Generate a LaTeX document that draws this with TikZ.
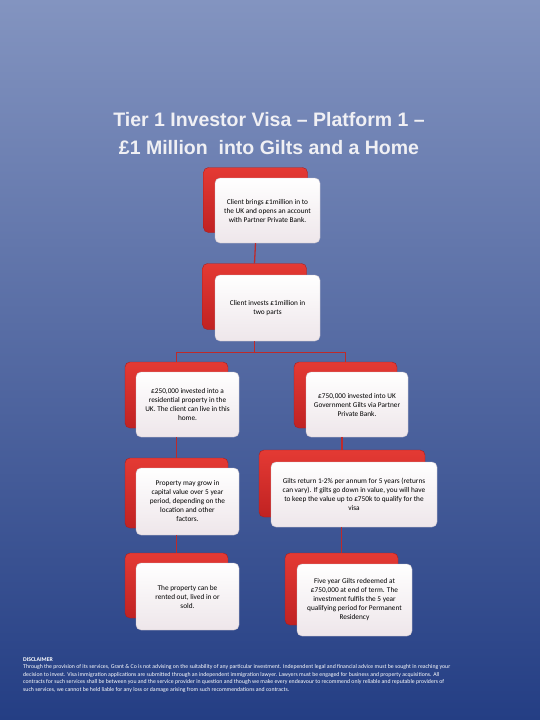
\documentclass[tikz,border=0pt]{standalone}
\usepackage{fontspec}
\setmainfont{Carlito}
\newfontfamily\titlefont{Liberation Sans}
\definecolor{bgtop}{RGB}{131,148,192}
\definecolor{bgmid}{RGB}{80,104,162}
\definecolor{bgbot}{RGB}{36,62,132}
\definecolor{redtop}{RGB}{228,58,52}
\definecolor{redbot}{RGB}{192,34,34}
\definecolor{backred}{RGB}{168,30,30}
\definecolor{frontbot}{RGB}{238,230,234}
\definecolor{frontedge}{RGB}{200,194,202}
\definecolor{linkred}{RGB}{190,42,42}
\definecolor{titlewhite}{RGB}{240,240,244}

\begin{document}
\begin{tikzpicture}[x=1pt,y=-1pt,
    backbox/.style={rounded corners=5pt,draw=backred,top color=redtop,bottom color=redbot,inner sep=0pt},
    frontbox/.style={rounded corners=5pt,draw=frontedge,top color=white,bottom color=frontbot,align=center,inner sep=2pt,font=\fontsize{7.3}{9}\selectfont},
    link/.style={draw=linkred,line width=1.3pt}]
        % background
        \shade[top color=bgtop,middle color=bgmid,bottom color=bgbot] (0,0) rectangle (540,720);
        \node[inner sep=0pt,align=center,text=titlewhite,font=\titlefont\bfseries\fontsize{19.5}{28}\selectfont] (title) at (269,134) {Tier 1 Investor Visa – Platform 1 –\\£1 Million~ into Gilts and a Home};
        % back boxes
        \node[backbox,minimum width=104pt,minimum height=65pt] (b1) at (255.5,200) {};
        \node[backbox,minimum width=104pt,minimum height=66pt] (b2) at (254.5,296.5) {};
        \node[backbox,minimum width=103pt,minimum height=66pt] (b3l) at (176.5,395) {};
        \node[backbox,minimum width=103pt,minimum height=66pt] (b3r) at (345.5,395) {};
        \node[backbox,minimum width=103pt,minimum height=70pt] (b4l) at (176.5,493) {};
        \node[backbox,minimum width=166pt,minimum height=67pt] (b4r) at (342,483.5) {};
        \node[backbox,minimum width=103pt,minimum height=65pt] (b5l) at (176.5,585.5) {};
        \node[backbox,minimum width=113pt,minimum height=72pt] (b5r) at (341.5,589) {};
        % front boxes
        \node[frontbox,minimum width=105pt,minimum height=65pt] (client) at (267.5,210.5) {Client brings £1million in to\\the UK and opens an account\\with Partner Private Bank.};
        \node[frontbox,minimum width=105pt,minimum height=66pt] (invest) at (267.5,308) {Client invests £1million in\\two parts};
        \node[frontbox,minimum width=103pt,minimum height=65pt] (home) at (187.5,404.5) {£250,000 invested into a\\residential property in the\\UK.  The client can live in this\\home.};
        \node[frontbox,minimum width=102pt,minimum height=65pt] (gilts) at (357,404.5) {£750,000 invested into UK\\Government Gilts via Partner\\Private Bank.};
        \node[frontbox,minimum width=103pt,minimum height=67pt] (grow) at (187.5,501.5) {Property may grow in\\capital value over 5 year\\period, depending on the\\location and other\\factors.};
        \node[frontbox,minimum width=166pt,minimum height=65pt] (returns) at (354,494.5) {Gilts return 1-2\% per annum for 5 years (returns\\can vary).  If gilts go down in value, you will have\\to keep the value up to £750k to qualify for the\\visa};
        \node[frontbox,minimum width=103pt,minimum height=67pt] (rented) at (187.5,596.5) {The property can be\\rented out, lived in or\\sold.};
        \node[frontbox,minimum width=115pt,minimum height=72pt] (redeem) at (354.5,600) {Five year Gilts redeemed at\\£750,000 at end of term.  The\\investment fulfils the 5 year\\qualifying period for Permanent\\Residency};
        % connectors
        \draw[link] (b1 |- client.south) -- (b2.north);
        \draw[link] (b2 |- invest.south) -- ++(0,11) -| (b3l.north);
        \draw[link] (b2 |- invest.south) -- ++(0,11) -| (b3r.north);
        \draw[link] (b4l |- home.south) -- (b4l.north);
        \draw[link] (b4r |- gilts.south) -- (b4r.north);
        \draw[link] (b5l |- grow.south) -- (b5l.north);
        \draw[link] (b5r |- returns.south) -- (b5r.north);
        % disclaimer
        \node[anchor=north west,inner sep=0pt,align=left,text=white,font=\fontsize{5.8}{7.6}\selectfont] (disclaimer) at (23,657) {\textbf{DISCLAIMER}\\Through the provision of its services, Grant \& Co is not advising on the suitability of any particular investment.  Independent legal and financial advice must be sought in reaching your\\decision to invest.  Visa immigration applications are submitted through an independent immigration lawyer.  Lawyers must be engaged for business and property acquisitions.  All\\contracts for such services shall be between you and the service provider in question and though we make every endeavour to recommend only reliable and reputable providers of\\such services, we cannot be held liable for any loss or damage arising from such recommendations and contracts.};
\end{tikzpicture}
\end{document}
